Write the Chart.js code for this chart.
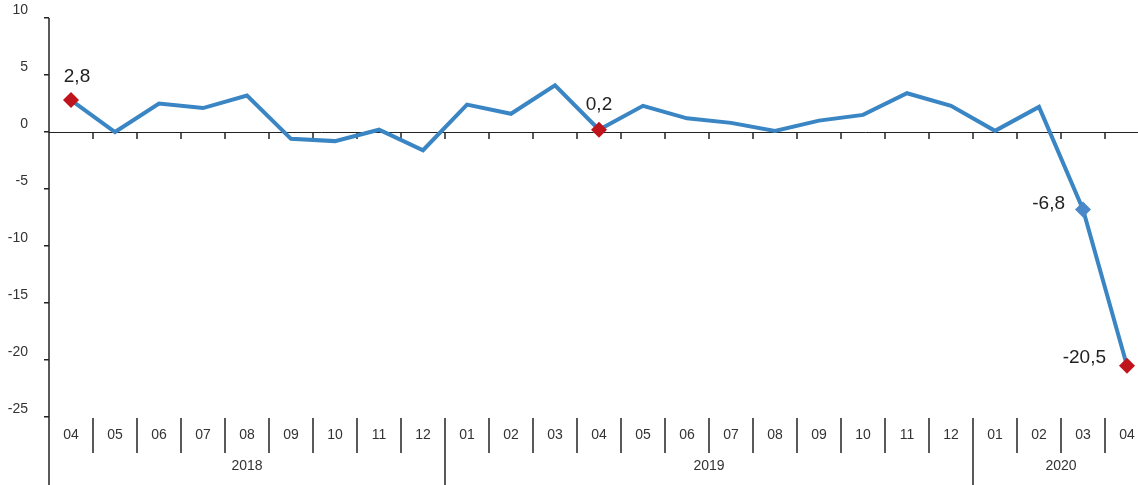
<!DOCTYPE html>
<html>
<head>
<meta charset="utf-8">
<script src="https://cdn.jsdelivr.net/npm/chart.js@4"></script>
<style>
  html, body { margin: 0; padding: 0; background: #fff; overflow: hidden; }
  canvas { display: block; }
</style>
</head>
<body>
<canvas id="chart1" width="1138" height="485"></canvas>
<script>
// monthly change, 04/2018 .. 04/2020
const months = ["04", "05", "06", "07", "08", "09", "10", "11", "12",
  "01", "02", "03", "04", "05", "06", "07", "08", "09", "10", "11", "12",
  "01", "02", "03", "04"];
const years = ["2018", "2019", "2020"];
const yearCounts = [9, 12, 4];
const values = [2.8, 0.0, 2.5, 2.1, 3.2, -0.6, -0.8, 0.2, -1.6,
  2.4, 1.6, 4.1, 0.2, 2.3, 1.2, 0.8, 0.1, 1.0, 1.5, 3.4, 2.3,
  0.1, 2.2, -6.8, -20.5];
const yTicks = [10, 5, 0, -5, -10, -15, -20, -25];
const labelled = [0, 12, 23, 24];

const lineBlue = "#3a85c3";
const red = "#c0141c";
const ink = "#222";
const font = "'Liberation Sans', Arial, sans-serif";

const pointColors = values.map((v, i) => i === 23 ? "#4a88c9" : red);
const pointRadius = values.map((v, i) => labelled.includes(i) ? 8 : 0);

// label offsets relative to the point (dx, dy, align)
const labelPos = {
  0: [6, -23, "center"],
  12: [0, -25, "center"],
  23: [-18, -6, "right"],
  24: [-21, -8, "right"]
};

const decor = {
  id: "decor",
  beforeDatasetsDraw(chart) {
    const c = chart.ctx, a = chart.chartArea;
    const x = chart.scales.x, y = chart.scales.y;
    const H = chart.height;
    const y0 = y.getPixelForValue(0);
    c.save();
    c.strokeStyle = ink;
    c.lineWidth = 1;
    c.beginPath();
    c.moveTo(a.left, y0 + 0.5);
    c.lineTo(a.right, y0 + 0.5);
    c.stroke();
    let yearStart = [0];
    let acc = 0;
    yearCounts.forEach(n => { acc += n; yearStart.push(acc); });
    c.lineWidth = 1.5;
    for (let i = 1; i < months.length; i++) {
      const xb = Math.round(x.getPixelForValue(i - 0.5));
      c.beginPath();
      c.moveTo(xb, y0);
      c.lineTo(xb, y0 + 7);
      c.stroke();
      c.beginPath();
      c.moveTo(xb, a.bottom + 1);
      c.lineTo(xb, yearStart.includes(i) ? H : a.bottom + 36);
      c.stroke();
    }
    // y axis line down through the label rows
    c.beginPath();
    c.moveTo(a.left, a.top);
    c.lineTo(a.left, H);
    c.stroke();
    // year row
    c.fillStyle = "#333";
    c.font = "14px " + font;
    c.textAlign = "center";
    c.textBaseline = "middle";
    years.forEach((yr, k) => {
      const x1 = x.getPixelForValue(yearStart[k] - 0.5);
      const x2 = x.getPixelForValue(yearStart[k + 1] - 0.5);
      c.fillText(yr, (x1 + x2) / 2, a.bottom + 49);
    });
    c.restore();
  },
  afterDatasetsDraw(chart) {
    const c = chart.ctx;
    const meta = chart.getDatasetMeta(0);
    c.save();
    c.fillStyle = "#222";
    c.font = "19px " + font;
    c.textBaseline = "middle";
    labelled.forEach(i => {
      const p = meta.data[i];
      const [dx, dy, al] = labelPos[i];
      c.textAlign = al;
      c.fillText(values[i].toFixed(1).replace(".", ","), p.x + dx, p.y + dy);
    });
    c.restore();
  }
};

new Chart(document.getElementById("chart1"), {
  type: "line",
  data: {
    datasets: [{
      data: values.map((v, i) => ({ x: i, y: v })),
      borderColor: lineBlue,
      borderWidth: 4,
      tension: 0,
      pointStyle: "rectRot",
      pointRadius: pointRadius,
      pointHoverRadius: pointRadius,
      pointBackgroundColor: pointColors,
      pointBorderColor: pointColors,
      pointBorderWidth: 0
    }]
  },
  options: {
    responsive: false,
    devicePixelRatio: 1,
    animation: false,
    layout: { autoPadding: false, padding: { top: 18, right: 0, bottom: 0, left: 0 } },
    plugins: { legend: { display: false }, tooltip: { enabled: false }, title: { display: false } },
    scales: {
      x: {
        type: "linear",
        min: -0.5,
        max: 24.25, // the last month column is cut by the right edge
        afterBuildTicks(s) { s.ticks = months.map((m, i) => ({ value: i })); },
        grid: { display: false, drawTicks: false },
        border: { display: false },
        ticks: {
          color: "#333", font: { size: 14, family: font }, padding: 10,
          maxRotation: 0, autoSkip: false,
          callback: (v) => months[v]
        },
        afterFit(s) { s.height = 68; s.paddingLeft = 0; s.paddingRight = 0; }
      },
      y: {
        min: -25,
        max: 10,
        afterBuildTicks(s) { s.ticks = yTicks.map(v => ({ value: v })); },
        grid: { drawOnChartArea: false, drawTicks: true, tickLength: 5, color: ink, lineWidth: 1.5 },
        border: { display: false },
        ticks: { color: "#333", font: { size: 14, family: font }, padding: 16, labelOffset: -8 },
        afterFit(s) { s.width = 49; s.paddingTop = 0; s.paddingBottom = 0; }
      }
    }
  },
  plugins: [decor]
});
</script>
</body>
</html>
